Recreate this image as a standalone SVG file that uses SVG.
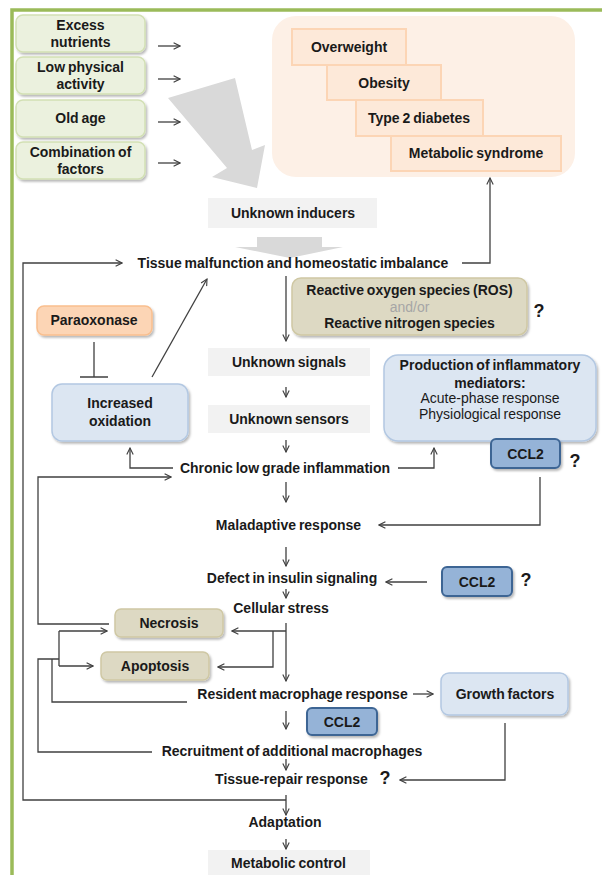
<svg xmlns="http://www.w3.org/2000/svg" width="602" height="875" viewBox="0 0 602 875">
<style>
.t{font-family:"Liberation Sans",Arial,sans-serif;font-size:14px;font-weight:bold;fill:#1a1a1a;text-anchor:middle;word-spacing:-1px}
.r{font-weight:normal}
.g{fill:#a6a6a6;font-weight:normal}
.q{font-size:18px}
.c{stroke:#404040;stroke-width:1.3;fill:none}
.a{marker-end:url(#ah)}
.grn{fill:#ebf1de;stroke:#d2e0b4;stroke-width:1.5;filter:url(#sh)}
.stair{fill:#fde9d9;stroke:#fcd5b5;stroke-width:2}
.gry{fill:#f2f2f2}
.tan{fill:#ddd9c3;stroke:#cfc8a4;stroke-width:1.5;filter:url(#sh)}
.blu{fill:#dce6f2;stroke:#b3c8e2;stroke-width:1.5;filter:url(#sh)}
.ccl{fill:#95b3d7;stroke:#3d6594;stroke-width:2;filter:url(#sh)}
.org{fill:#fcd5b5;stroke:#f9bf8f;stroke-width:1.5;filter:url(#sh)}
.big{fill:#d9d9d9}
</style>
<defs>
<marker id="ah" viewBox="0 0 10 10" refX="9" refY="5" markerWidth="8" markerHeight="8" markerUnits="userSpaceOnUse" orient="auto">
<path d="M1,1 L9,5 L1,9" fill="none" stroke="#404040" stroke-width="1.4"/>
</marker>
<filter id="sh" x="-10%" y="-15%" width="125%" height="145%">
<feDropShadow dx="1.5" dy="2" stdDeviation="1.3" flood-color="#000" flood-opacity="0.28"/>
</filter>
</defs>
<rect width="602" height="875" fill="#fff"/>
<g id="frame">
<path d="M12,875 V10 H602" fill="none" stroke="#9bbb59" stroke-width="3.5"/>
</g>
<g id="outcomes">
<rect x="272" y="16" width="303" height="161" rx="24" fill="#fdf0e6"/>
<g id="overweight"><rect class="stair" x="292" y="29" width="114" height="36"/><text class="t" x="349" y="52">Overweight</text></g>
<g id="obesity"><rect class="stair" x="327" y="65" width="114" height="35"/><text class="t" x="384" y="88">Obesity</text></g>
<g id="t2d"><rect class="stair" x="356" y="100" width="127" height="36"/><text class="t" x="419" y="123">Type 2 diabetes</text></g>
<g id="metsyn"><rect class="stair" x="391" y="136" width="170" height="35"/><text class="t" x="476" y="158">Metabolic syndrome</text></g>
</g>
<g id="gray-arrows">
<polygon class="big" points="168,98 235,78 252,150 265,145 257,188 212,177 227,168"/>
<polygon class="big" points="257,237 322,237 322,247 343,247 290,258 235,247 257,247"/>
</g>
<g id="excess"><rect class="grn" x="16" y="15" width="129" height="37" rx="7"/><text class="t" x="80.5" y="30">Excess</text><text class="t" x="80.5" y="47">nutrients</text></g>
<g id="lowphys"><rect class="grn" x="16" y="57" width="129" height="37" rx="7"/><text class="t" x="80.5" y="72">Low physical</text><text class="t" x="80.5" y="89">activity</text></g>
<g id="oldage"><rect class="grn" x="16" y="100" width="129" height="37" rx="7"/><text class="t" x="80.5" y="123">Old age</text></g>
<g id="combo"><rect class="grn" x="16" y="142" width="129" height="37" rx="7"/><text class="t" x="80.5" y="157">Combination of</text><text class="t" x="80.5" y="174">factors</text></g>
<g id="inducers"><rect class="gry" x="208" y="198" width="169" height="30"/><text class="t" x="293" y="218">Unknown inducers</text></g>
<g id="tissue"><text class="t" x="293" y="268">Tissue malfunction and homeostatic imbalance</text></g>
<g id="ros"><rect class="tan" x="292" y="278" width="235" height="57" rx="9"/>
<text class="t" x="409.5" y="295">Reactive oxygen species (ROS)</text>
<text class="t g" x="409.5" y="312">and/or</text>
<text class="t" x="409.5" y="328">Reactive nitrogen species</text>
<text class="t q" x="539" y="317">?</text></g>
<g id="paraoxonase"><rect class="org" x="37" y="306" width="115" height="29" rx="7"/><text class="t" x="94" y="325">Paraoxonase</text></g>
<g id="oxidation"><rect class="blu" x="52" y="384" width="136" height="57" rx="10"/><text class="t" x="120" y="408">Increased</text><text class="t" x="120" y="426">oxidation</text></g>
<g id="signals"><rect class="gry" x="208" y="348" width="162" height="28"/><text class="t" x="289" y="367">Unknown signals</text></g>
<g id="sensors"><rect class="gry" x="208" y="405" width="162" height="28"/><text class="t" x="289" y="424">Unknown sensors</text></g>
<g id="production"><rect class="blu" x="384" y="355" width="212" height="86" rx="14"/>
<text class="t" x="490" y="370">Production of inflammatory</text>
<text class="t" x="490" y="388">mediators:</text>
<text class="t r" x="490" y="403">Acute-phase response</text>
<text class="t r" x="490" y="419">Physiological response</text></g>
<g id="ccl2-a"><rect class="ccl" x="491" y="439" width="69" height="29" rx="5"/><text class="t" x="525.5" y="459">CCL2</text><text class="t q" x="575" y="467">?</text></g>
<g id="chronic"><text class="t" x="285" y="473">Chronic low grade inflammation</text></g>
<g id="maladaptive"><text class="t" x="288.5" y="530">Maladaptive response</text></g>
<g id="defect"><text class="t" x="292" y="583">Defect in insulin signaling</text></g>
<g id="ccl2-b"><rect class="ccl" x="442" y="567" width="70" height="29" rx="5"/><text class="t" x="477" y="587">CCL2</text><text class="t q" x="526" y="586">?</text></g>
<g id="cellular"><text class="t" x="281" y="613">Cellular stress</text></g>
<g id="necrosis"><rect class="tan" x="115" y="609" width="108" height="28" rx="6"/><text class="t" x="169" y="628">Necrosis</text></g>
<g id="apoptosis"><rect class="tan" x="101" y="652" width="108" height="28" rx="6"/><text class="t" x="155" y="671">Apoptosis</text></g>
<g id="resident"><text class="t" x="302.5" y="699">Resident macrophage response</text></g>
<g id="growth"><rect class="blu" x="441" y="673" width="127" height="42" rx="8"/><text class="t" x="505" y="699">Growth factors</text></g>
<g id="ccl2-c"><rect class="ccl" x="307" y="708" width="70" height="27" rx="5"/><text class="t" x="342" y="727">CCL2</text></g>
<g id="recruitment"><text class="t" x="292" y="756">Recruitment of additional macrophages</text></g>
<g id="repair"><text class="t" x="291.5" y="784">Tissue-repair response</text><text class="t q" x="385" y="784">?</text></g>
<g id="adaptation"><text class="t" x="285" y="827">Adaptation</text></g>
<g id="control"><rect class="gry" x="208" y="850" width="162" height="25"/><text class="t" x="288.5" y="868">Metabolic control</text></g>
<g id="connectors">
<path class="c a" d="M158,46 H180"/>
<path class="c a" d="M158,79 H180"/>
<path class="c a" d="M158,122 H180"/>
<path class="c a" d="M158,163 H180"/>
<path class="c a" d="M462,263 H490 V178"/>
<path class="c a" d="M286,800 H23 V263 H122"/>
<path class="c a" d="M286,276 V341"/>
<path class="c a" d="M286,387 V397"/>
<path class="c a" d="M286,440 V452"/>
<path class="c a" d="M286,482 V502"/>
<path class="c a" d="M286,547 V566"/>
<path class="c a" d="M286,589 V598"/>
<path class="c a" d="M286,623 V681"/>
<path class="c a" d="M286,631 H232"/>
<path class="c a" d="M273,631 V667 H218"/>
<path class="c a" d="M286,711 V729"/>
<path class="c a" d="M286,759 V770"/>
<path class="c a" d="M286,795 V815"/>
<path class="c a" d="M286,839 V849"/>
<path class="c" d="M94,342 V377 M80,377 H108"/>
<path class="c a" d="M152,377 L207,279"/>
<path class="c a" d="M173,468 H130 V448"/>
<path class="c a" d="M109,624 H38 V477 H171"/>
<path class="c a" d="M398,468 H434 V448"/>
<path class="c a" d="M540,477 V525 H379"/>
<path class="c a" d="M427,582 H386"/>
<path class="c a" d="M413,694 H433"/>
<path class="c a" d="M505,723 V780 H400"/>
<path class="c" d="M187,702 H52 V659"/>
<path class="c" d="M152,752 H38 V659 H59"/>
<path class="c" d="M59,631 V666"/>
<path class="c a" d="M59,631 H107"/>
<path class="c a" d="M59,666 H93"/>
</g>
</svg>
